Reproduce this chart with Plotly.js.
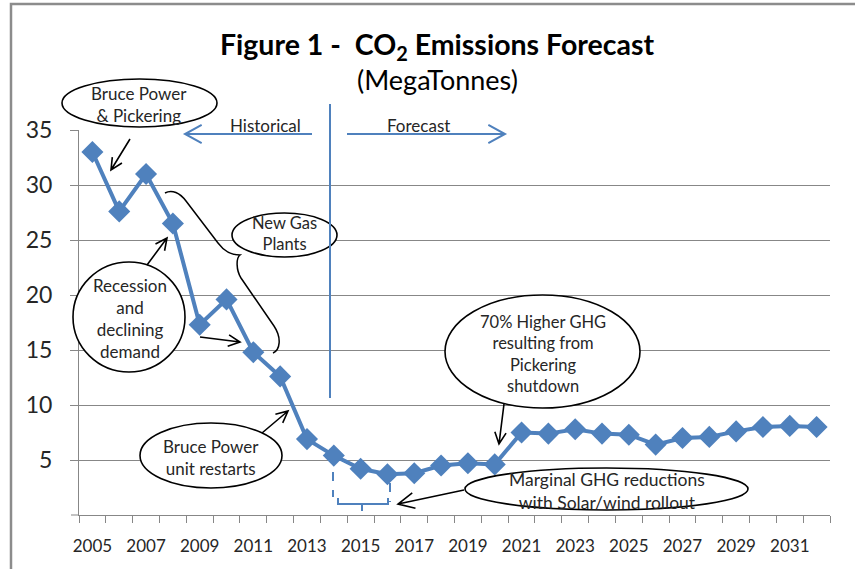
<!DOCTYPE html>
<html>
<head>
<meta charset="utf-8">
<script src="https://cdn.plot.ly/plotly-3.0.1.min.js"></script>
<style>html,body{margin:0;padding:0;background:#fff;}#chart{width:855px;height:569px;}</style>
</head>
<body>
<div id="chart"></div>
<script>
// ---- Data ----
const years = [2005, 2006, 2007, 2008, 2009, 2010, 2011, 2012, 2013, 2014, 2015, 2016, 2017, 2018,
               2019, 2020, 2021, 2022, 2023, 2024, 2025, 2026, 2027, 2028, 2029, 2030, 2031, 2032];
const emissions = [33.0, 27.6, 31.0, 26.5, 17.3, 19.6, 14.8, 12.6, 6.9, 5.4, 4.2, 3.7, 3.8, 4.5,
                   4.7, 4.6, 7.5, 7.4, 7.8, 7.4, 7.3, 6.4, 7.0, 7.1, 7.6, 8.0, 8.1, 8.0];
const xTickYears = [2005, 2007, 2009, 2011, 2013, 2015, 2017, 2019, 2021, 2023, 2025, 2027, 2029, 2031];
const yTickVals = [5, 10, 15, 20, 25, 30, 35];
const titleText = '<b>Figure 1 -  CO<sub>2</sub> Emissions Forecast</b>';
const subtitleText = '(MegaTonnes)';

// ---- Layout helpers (pixel -> paper) ----
const W = 855, H = 569, L = 79, R = 830, T = 130, B = 515;
const px = x => (x - L) / (R - L);
const py = y => (B - y) / (B - T);
const BLUE = '#4F81BD', GRID = '#878787', INK = '#262626';
const FONT = 'Lato, "Open Sans", sans-serif';

function pathPx(d) {
  return d.replace(/(-?\d+(?:\.\d+)?),(-?\d+(?:\.\d+)?)/g,
    (m, a, b) => px(+a).toFixed(5) + ',' + py(+b).toFixed(5));
}
function arrowPath(x0, y0, x1, y1, len, ang) {
  const th = Math.atan2(y1 - y0, x1 - x0);
  const a1 = th + Math.PI - ang, a2 = th + Math.PI + ang;
  const ax = x1 + len * Math.cos(a1), ay = y1 + len * Math.sin(a1);
  const bx = x1 + len * Math.cos(a2), by = y1 + len * Math.sin(a2);
  return pathPx(`M${x0},${y0} L${x1},${y1} M${ax.toFixed(2)},${ay.toFixed(2)} L${x1},${y1} L${bx.toFixed(2)},${by.toFixed(2)}`);
}
function ellipse(x0, y0, x1, y1) {
  return {type: 'circle', xref: 'paper', yref: 'paper', layer: 'above',
    x0: px(x0), x1: px(x1), y0: py(y1), y1: py(y0),
    fillcolor: '#ffffff', line: {color: '#000', width: 1.6}};
}
function pshape(d, color, width, dash) {
  return {type: 'path', xref: 'paper', yref: 'paper', layer: 'above', path: d,
    line: {color: color, width: width, dash: dash || 'solid'}};
}
function label(text, x, y, size) {
  return {xref: 'paper', yref: 'paper', x: px(x), y: py(y), text: text, showarrow: false,
    xanchor: 'center', yanchor: 'middle', font: {family: FONT, size: size || 16.5, color: INK}};
}

const shapes = [
  // chart frame (top and left edges)
  pshape(pathPx('M11,569 L11,4 L855,4'), '#8c8c8c', 2.5),
  // y tick mark at zero
  pshape(pathPx('M71,515 L79,515'), GRID, 1),
  // ellipses
  ellipse(62, 79, 217, 127),
  ellipse(232, 213, 337, 257),
  ellipse(73, 262, 185, 372),
  ellipse(140, 423, 282, 488),
  ellipse(445, 295, 640, 408),
  ellipse(465, 468, 748, 510),
  // historical / forecast divider and arrows
  pshape(pathPx('M330,104 L330,398'), BLUE, 2),
  pshape(arrowPath(312, 134, 185, 134, 19, 0.5), BLUE, 2),
  pshape(arrowPath(347, 134, 505, 134, 19, 0.5), BLUE, 2),
  // brace for new gas plants
  pshape(pathPx('M165,193 C172,189 180,193 186,201 L218,243 C224,251 230,255 240,255 C236,258 236,270 241,278 L274,326 C282,338 280,350 273,353'), '#000', 1.5),
  // black pointer arrows
  pshape(arrowPath(130, 139, 111, 170, 13, 0.45), '#000', 1.6),
  pshape(arrowPath(147, 265, 167, 238, 13, 0.45), '#000', 1.6),
  pshape(arrowPath(200, 337, 240, 342, 13, 0.45), '#000', 1.6),
  pshape(arrowPath(262, 433, 288, 411, 13, 0.45), '#000', 1.6),
  pshape(arrowPath(504, 404, 499, 444, 13, 0.45), '#000', 1.6),
  pshape(arrowPath(464, 490, 398, 504, 18, 0.45), '#000', 1.6),
  // dashed bracket under 2015-2016
  pshape(pathPx('M333,472 L333,497'), BLUE, 2, 'dash'),
  pshape(pathPx('M390,483 L390,502'), BLUE, 2, 'dash'),
  pshape(pathPx('M338,498 L338,504 L388,504 L388,498 M362,504 L362,511'), BLUE, 2)
];

const annotations = [
  {xref: 'paper', yref: 'paper', x: px(437), y: py(80), text: subtitleText, showarrow: false,
   xanchor: 'center', yanchor: 'middle', font: {family: FONT, size: 27, color: '#000'}},
  label('Historical', 265, 125, 17),
  label('Forecast', 418, 125, 17),
  label('Bruce Power<br>& Pickering', 139, 104, 17),
  label('New Gas<br>Plants', 284, 233),
  label('Recession<br>and<br>declining<br>demand', 130, 318, 17),
  label('Bruce Power<br>unit restarts', 211, 457, 17),
  label('70% Higher GHG<br>resulting from<br>Pickering<br>shutdown', 543, 354),
  label('Marginal GHG reductions<br>with Solar/wind rollout', 607, 491, 17.5)
];

const trace = {
  x: years, y: emissions, type: 'scatter', mode: 'lines+markers',
  line: {color: BLUE, width: 4},
  marker: {symbol: 'diamond', size: 17, color: BLUE},
  hoverinfo: 'x+y', showlegend: false
};

const layout = {
  width: W, height: H,
  margin: {l: L, r: W - R, t: T, b: H - B, pad: 0},
  paper_bgcolor: '#fff', plot_bgcolor: '#fff',
  font: {family: FONT, color: INK},
  title: {text: titleText, xref: 'paper', x: px(437), xanchor: 'center',
          yref: 'container', y: 1 - 45 / H, yanchor: 'middle',
          font: {family: FONT, size: 28.5, color: '#000'}},
  xaxis: {type: 'linear', range: [2004.5, 2032.5], tickmode: 'array', tickvals: xTickYears,
          ticks: '', showgrid: false, zeroline: false, showline: true, linecolor: GRID, linewidth: 1,
          tickfont: {family: FONT, size: 17, color: INK}, ticklabelstandoff: 16,
          minor: {tick0: 2004.5, dtick: 1, ticks: 'outside', ticklen: 7, tickcolor: GRID, tickwidth: 1, showgrid: false},
          fixedrange: true},
  yaxis: {range: [0, 35], tickmode: 'array', tickvals: yTickVals,
          ticks: 'outside', ticklen: 8, tickcolor: GRID, showgrid: true, gridcolor: GRID, gridwidth: 1,
          zeroline: false, showline: true, linecolor: GRID, linewidth: 1,
          tickfont: {family: FONT, size: 23, color: INK}, ticklabelstandoff: 13, fixedrange: true},
  shapes: shapes,
  annotations: annotations
};

Plotly.newPlot('chart', [trace], layout, {staticPlot: true, displayModeBar: false});
</script>
</body>
</html>
